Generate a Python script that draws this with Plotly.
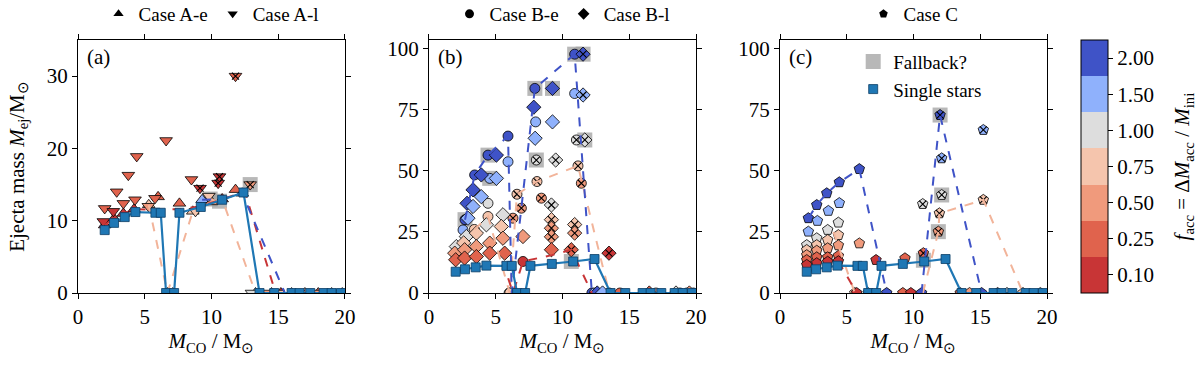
import plotly.graph_objects as go
from plotly.subplots import make_subplots

FONT = "Liberation Serif"

# f_acc bins and their colours (coolwarm, reversed)
facc_vals = [0.10, 0.25, 0.50, 0.75, 1.00, 1.50, 2.00]
facc_cols = ["#c83536", "#e0634d", "#f09a7c", "#f5c5ad", "#dddddd", "#8fb1fc", "#3f53c7"]
COL = dict(zip(facc_vals, facc_cols))

# single stars (same in every panel)
single_x = [2.0, 2.7, 3.5, 4.3, 5.8, 6.2, 6.6, 7.2, 7.6, 9.2, 10.8, 12.4, 13.6, 14.7, 16.0, 16.6, 17.4, 18.4, 19.0, 19.7]
single_y = [8.7, 9.7, 10.5, 11.2, 11.1, 11.1, 0, 0, 11.1, 11.9, 12.9, 13.9, 0, 0, 0, 0, 0, 0, 0, 0]

# ---------- panel (a): Case A-e (up) / Case A-l (down) ----------
ae_x = [2.0, 2.7, 3.4, 4.2, 5.3, 6.0, 6.7, 7.1, 7.6, 8.6, 9.3, 10.0, 10.8, 11.8, 12.3, 13.3, 14.5, 15.2, 16.0, 17.0, 18.0, 19.0, 19.8]
ae_y = [9.4, 10.3, 11.0, 11.6, 12.2, 13.3, 0, 0, 12.4, 11.3, 12.9, 12.6, 13.0, 14.3, 13.8, 0, 0, 0, 0, 0, 0, 0, 0]
ae_f = [0.10, 0.10, 0.10, 0.10, 0.75, 0.25, 0.75, 0.50, 0.25, 0.75, 1.50, 0.50, 0.10, 0.25, 2.00, 0.75, 0.50, 0.10, 1.00, 0.50, 0.25, 0.75, 1.00]
ae_c = [0] * 23

al_x = [1.9, 2.0, 2.65, 2.9, 3.4, 3.77, 4.27, 4.4, 5.27, 5.77, 6.6, 8.5, 8.8, 9.14, 9.8, 10.5, 10.6, 11.8, 12.9, 13.0, 14.0, 15.0, 16.5, 18.0, 19.5]
al_y = [9.9, 11.7, 11.3, 14.0, 12.4, 16.3, 12.9, 18.9, 12.0, 13.1, 21.1, 15.7, 11.3, 14.5, 13.4, 15.2, 16.1, 30.0, 15.0, 0, 0, 0, 0, 0, 0]
al_f = [0.10, 0.25, 0.10, 0.25, 0.25, 0.25, 0.25, 0.25, 0.50, 0.25, 0.25, 0.25, 0.75, 0.10, 0.75, 0.10, 0.10, 0.25, 0.50, 1.00, 0.50, 0.75, 0.25, 0.50, 1.00]
al_c = [0, 0, 0, 0, 0, 0, 0, 0, 0, 0, 0, 0, 0, 1, 0, 1, 1, 1, 1, 0, 0, 0, 0, 0, 0]

a_fb_x = [9.9, 10.6, 12.9]
a_fb_y = [13.0, 12.7, 15.0]

a_l010_x = [2.0, 2.7, 3.4, 4.2, 5.8, 7.6, 9.2, 10.8, 12.5, 14.8]
a_l010_y = [9.4, 10.3, 11.0, 11.6, 11.5, 11.6, 12.0, 13.0, 14.0, 0]
a_l075_x = [5.3, 6.7, 8.6, 9.8, 10.9, 13.3]
a_l075_y = [12.2, 0, 11.3, 13.0, 12.5, 0]
a_l200_x = [9.3, 10.8, 12.3, 15.5]
a_l200_y = [12.9, 13.0, 13.8, 0]

# ---------- panel (b): Case B-e (circle) / Case B-l (diamond) ----------
be_x = [2.7, 3.42, 4.42, 5.92, 6.2, 7.93, 10.91, 12.2,
        2.55, 4.55, 5.92, 7.99, 10.91, 12.4,
        4.42, 8.04, 11.04, 6.0,
        3.4, 4.42, 6.59, 8.09, 11.16, 6.05, 13.5,
        6.29, 6.92, 8.42, 11.41,
        7.04, 14.3, 17.0, 18.8, 19.3, 19.8]
be_y = [30.0, 48.3, 56.4, 64.2, 0, 83.7, 97.7, 0,
        25.8, 46.9, 53.7, 70.0, 81.6, 0,
        36.7, 54.4, 62.6, 0,
        26.0, 31.3, 40.4, 45.6, 52.0, 0, 0,
        30.6, 34.7, 38.8, 44.9,
        12.9, 0, 0, 0, 0, 0]
be_f = [2.00] * 8 + [1.50] * 6 + [1.00] * 4 + [0.75] * 7 + [0.50] * 4 + [0.10, 0.25, 0.50, 2.00, 0.75, 0.25]
be_c = [0] * 15 + [1, 1, 0] + [0, 0, 1, 1, 1, 0, 0] + [1, 1, 1, 1] + [0] * 6

bl_x = [2.85, 3.3, 3.92, 5.05, 7.85, 9.25, 11.54,
        2.92, 3.3, 3.92, 5.05, 7.95, 9.25, 11.54,
        2.05, 2.8, 4.3, 5.54, 9.17, 9.49, 11.67,
        2.6, 3.55, 5.42, 9.17, 10.91,
        1.93, 2.67, 3.55, 4.55, 5.54, 7.04, 9.17, 9.17, 10.91,
        2.0, 2.67, 3.55, 4.55, 5.67, 9.17, 10.66,
        13.48, 12.6, 13.0, 16.5, 18.5, 19.5]
bl_y = [36.7, 42.2, 48.3, 56.4, 76.0, 83.7, 97.7,
        30.6, 35.4, 39.4, 46.9, 63.3, 70.0, 81.0,
        19.0, 23.1, 27.9, 32.0, 36.0, 54.4, 62.6,
        20.5, 24.5, 27.2, 30.0, 28.0,
        16.3, 17.7, 19.0, 20.4, 22.4, 23.1, 26.5, 23.0, 24.5,
        13.6, 14.3, 14.9, 16.3, 16.3, 17.7, 17.7,
        16.3, 0, 0, 0, 0, 0]
bl_f = [2.00] * 7 + [1.50] * 7 + [1.00] * 7 + [0.75] * 5 + [0.50] * 9 + [0.25] * 7 + [0.10, 2.00, 1.50, 0.25, 1.00, 0.50]
bl_c = ([0] * 6 + [1]) + ([0] * 6 + [1]) + ([0] * 4 + [1, 1, 1]) + [0, 0, 0, 1, 1] + ([0] * 6 + [1, 1, 1]) + ([0] * 6 + [1]) + [1, 0, 0, 0, 0, 0]

b_fb_x = [2.7, 4.42, 4.55, 7.93, 9.25, 8.04, 10.91, 11.54, 11.67, 10.66]
b_fb_y = [30.0, 56.4, 46.9, 83.7, 83.7, 54.4, 97.7, 97.7, 62.6, 12.9]

b_l200_x = [2.7, 3.42, 4.42, 5.92, 6.2, 7.93, 10.91, 12.2]
b_l200_y = [30.0, 48.3, 56.4, 64.2, 0, 83.7, 97.7, 0]
b_l075_x = [3.42, 4.42, 6.05, 6.59, 8.09, 11.16, 13.5]
b_l075_y = [26.0, 31.3, 0, 40.4, 45.6, 52.0, 0]
b_l010_x = [5.5, 6.3, 7.04, 9.2, 10.66, 12.2]
b_l010_y = [13.0, 0, 12.9, 15.5, 17.7, 0]

# ---------- panel (c): Case C (pentagon) ----------
c_x = [2.12, 2.75, 3.5, 4.44, 5.94, 7.99, 10.6, 11.99, 15.1,
       2.12, 2.8, 3.62, 4.44, 12.11, 15.23,
       2.0, 2.75, 3.57, 4.37, 10.69, 12.11,
       2.0, 2.75, 3.57, 4.37, 5.6, 11.94, 15.23, 18.2,
       2.0, 2.75, 3.57, 4.37, 5.94, 11.86,
       2.0, 2.75, 3.57, 4.37, 9.36, 10.74,
       2.0, 2.75, 3.57, 4.37, 7.19, 5.74,
       6.6, 9.2, 9.8, 13.5, 14.2, 16.3, 17.0, 19.5]
c_y = [30.6, 36.0, 40.8, 45.3, 50.7, 0, 0, 72.8, 0,
       25.1, 29.5, 33.6, 36.8, 55.1, 66.7,
       19.6, 22.4, 25.8, 28.8, 36.4, 40.1,
       17.6, 19.6, 21.7, 23.7, 0, 32.6, 38.1, 0,
       15.5, 17.3, 18.3, 19.5, 20.3, 25.1,
       13.5, 14.6, 14.6, 15.2, 14.2, 16.3,
       11.5, 12.2, 12.8, 13.0, 13.5, 0,
       0, 0, 0, 0, 0, 0, 0, 0]
c_f = [2.00] * 9 + [1.50] * 6 + [1.00] * 6 + [0.75] * 8 + [0.50] * 6 + [0.25] * 6 + [0.10] * 6 + [1.00, 0.25, 0.10, 0.25, 0.50, 0.10, 1.00, 0.75]
c_cc = ([0] * 7 + [1, 0]) + [0, 0, 0, 0, 1, 1] + [0, 0, 0, 0, 1, 1] + [0, 0, 0, 0, 0, 1, 1, 0] + [0] * 5 + [1] + [0] * 5 + [1] + [0] * 6 + [0] * 8

c_fb_x = [11.99, 12.11, 11.86, 10.74]
c_fb_y = [72.8, 40.1, 25.1, 13.4]

c_l200_x = [2.12, 2.75, 3.5, 4.44, 5.94, 7.99, None, 10.6, 11.99, 15.1]
c_l200_y = [30.6, 36.0, 40.8, 45.3, 50.7, 0, None, 0, 72.8, 0]
c_l075_x = [4.0, 5.6, None, 10.7, 11.86, 11.94, 15.23, 18.2]
c_l075_y = [25.0, 0, None, 0, 25.1, 32.6, 38.1, 0]
c_l010_x = [4.37, 5.74]
c_l010_y = [13.0, 0]

fig = make_subplots(rows=1, cols=3)

FB_COLOR = "rgba(160,160,160,0.75)"
SS_COLOR = "#1f77b4"
TXT = 21


def add_fallback(col, xs, ys):
    fig.add_trace(go.Scatter(x=xs, y=ys, mode="markers", showlegend=False,
                             marker=dict(symbol="square", size=15, color=FB_COLOR, line=dict(width=0))),
                  row=1, col=col)


def add_points(col, xs, ys, fs, cs, symbol, size):
    fig.add_trace(go.Scatter(x=xs, y=ys, mode="markers", showlegend=False,
                             marker=dict(symbol=symbol, size=size, color=[COL[f] for f in fs],
                                         line=dict(color="black", width=0.8))),
                  row=1, col=col)
    cx = [x for x, c in zip(xs, cs) if c]
    cy = [y for y, c in zip(ys, cs) if c]
    fig.add_trace(go.Scatter(x=cx, y=cy, mode="markers", showlegend=False,
                             marker=dict(symbol="x-thin", size=7, line=dict(color="black", width=1.1))),
                  row=1, col=col)


def add_dash(col, xs, ys, f):
    fig.add_trace(go.Scatter(x=xs, y=ys, mode="lines", showlegend=False, connectgaps=False,
                             line=dict(color=COL[f] if f != 0.75 else "#f2b49a", width=2, dash="dash")),
                  row=1, col=col)


def add_single(col):
    fig.add_trace(go.Scatter(x=single_x, y=single_y, mode="lines+markers", showlegend=False,
                             line=dict(color=SS_COLOR, width=2.2),
                             marker=dict(symbol="square", size=9, color=SS_COLOR, line=dict(color="#0b3d66", width=0.8))),
                  row=1, col=col)


# panel a
add_fallback(1, a_fb_x, a_fb_y)
add_points(1, ae_x, ae_y, ae_f, ae_c, "triangle-up", 11)
add_points(1, al_x, al_y, al_f, al_c, "triangle-down", 11)
add_dash(1, a_l075_x, a_l075_y, 0.75)
add_dash(1, a_l010_x, a_l010_y, 0.10)
add_dash(1, a_l200_x, a_l200_y, 2.00)
add_single(1)

# panel b
add_fallback(2, b_fb_x, b_fb_y)
add_points(2, be_x, be_y, be_f, be_c, "circle", 10)
add_points(2, bl_x, bl_y, bl_f, bl_c, "diamond", 11)
add_dash(2, b_l075_x, b_l075_y, 0.75)
add_dash(2, b_l010_x, b_l010_y, 0.10)
add_dash(2, b_l200_x, b_l200_y, 2.00)
add_single(2)

# panel c
add_fallback(3, c_fb_x, c_fb_y)
add_points(3, c_x, c_y, c_f, c_cc, "pentagon", 11)
add_dash(3, c_l075_x, c_l075_y, 0.75)
add_dash(3, c_l010_x, c_l010_y, 0.10)
add_dash(3, c_l200_x, c_l200_y, 2.00)
add_single(3)

# legend entries (marker only)
fig.add_trace(go.Scatter(x=[None], y=[None], mode="markers", name="Fallback?",
                         marker=dict(symbol="square", size=15, color=FB_COLOR)), row=1, col=3)
fig.add_trace(go.Scatter(x=[None], y=[None], mode="markers", name="Single stars",
                         marker=dict(symbol="square", size=9, color=SS_COLOR, line=dict(color="#0b3d66", width=0.8))),
              row=1, col=3)

# case headers as extra legends
cases = [("Case A-e", "triangle-up", "legend2"), ("Case A-l", "triangle-down", "legend2"),
         ("Case B-e", "circle", "legend3"), ("Case B-l", "diamond", "legend3"),
         ("Case C", "pentagon", "legend4")]
for name, sym, lg in cases:
    fig.add_trace(go.Scatter(x=[None], y=[None], mode="markers", name=name, legend=lg,
                             marker=dict(symbol=sym, size=9, color="black")), row=1, col=1)

# discrete colour bar
scale = []
for i, c in enumerate(facc_cols):
    scale += [[i / 7, c], [(i + 1) / 7, c]]
fig.add_trace(go.Scatter(x=[1], y=[-50], mode="markers", showlegend=False,
                         marker=dict(color=[0], cmin=0, cmax=7, colorscale=scale, showscale=True,
                                     colorbar=dict(x=1.035, xanchor="left", xpad=0, y=0.5, ypad=0,
                                                   len=1, thickness=27, outlinewidth=1, outlinecolor="black",
                                                   tickvals=[i + 0.5 for i in range(7)],
                                                   ticktext=["%.2f" % v for v in facc_vals],
                                                   ticks="outside", ticklen=5, tickcolor="black",
                                                   tickfont=dict(size=TXT, family=FONT, color="black")))),
              row=1, col=3)
fig.add_annotation(text="<i>f</i><sub>acc</sub> = Δ<i>M</i><sub>acc</sub> / <i>M</i><sub>ini</sub>",
                   xref="paper", yref="paper", x=1.1403, y=0.5, textangle=-90, showarrow=False,
                   xanchor="center", yanchor="middle", font=dict(size=TXT, family=FONT, color="black"))

TICKFONT = dict(size=TXT, family=FONT, color="black")
doms = [[0, 0.2755], [0.3622, 0.6378], [0.7245, 1]]
for i in range(3):
    fig.update_xaxes(domain=doms[i], range=[0, 20], tickvals=[0, 5, 10, 15, 20], row=1, col=i + 1,
                     title=dict(text="<i>M</i><sub>CO</sub> / M<sub>⊙</sub>", standoff=0,
                                font=dict(size=TXT, family=FONT, color="black")))
fig.update_xaxes(ticks="outside", ticklen=5, tickcolor="black", showline=True, linecolor="black", linewidth=1,
                 mirror="ticks", showgrid=False, zeroline=False, tickfont=TICKFONT, automargin=False)
fig.update_yaxes(ticks="outside", ticklen=5, tickcolor="black", showline=True, linecolor="black", linewidth=1,
                 mirror="ticks", showgrid=False, zeroline=False, tickfont=TICKFONT, automargin=False)
fig.update_yaxes(range=[0, 35], tickvals=[0, 10, 20, 30], row=1, col=1,
                 title=dict(text="Ejecta mass <i>M</i><sub>ej</sub>/M<sub>⊙</sub>", standoff=16,
                            font=dict(size=TXT, family=FONT, color="black")))
fig.update_yaxes(range=[0, 103.5], tickvals=[0, 25, 50, 75, 100], row=1, col=2)
fig.update_yaxes(range=[0, 103.5], tickvals=[0, 25, 50, 75, 100], row=1, col=3)

for lab, ax in [("(a)", "x"), ("(b)", "x2"), ("(c)", "x3")]:
    fig.add_annotation(text=lab, xref=ax + " domain", yref="y domain", x=0.025, y=0.99,
                       xanchor="left", yanchor="top", showarrow=False,
                       font=dict(size=TXT, family=FONT, color="black"))

hdr = dict(orientation="h", yref="container", yanchor="middle", y=1 - 14 / 367, xanchor="center",
           font=dict(size=19, family=FONT, color="black"), bgcolor="rgba(0,0,0,0)")
fig.update_layout(
    width=1200, height=367,
    margin=dict(l=78, r=153, t=40, b=74, autoexpand=False),
    plot_bgcolor="white", paper_bgcolor="white",
    font=dict(family=FONT, size=TXT, color="black"),
    legend=dict(x=0.8, y=0.99, xanchor="left", yanchor="top", bgcolor="rgba(0,0,0,0)",
                font=dict(size=19, family=FONT, color="black"), tracegroupgap=2),
    legend2=dict(x=0.1378, **hdr),
    legend3=dict(x=0.5, **hdr),
    legend4=dict(x=0.8622, **hdr),
)

fig.write_html("out.html", config={"displayModeBar": False},
               post_script="document.body.style.margin='0px';")
